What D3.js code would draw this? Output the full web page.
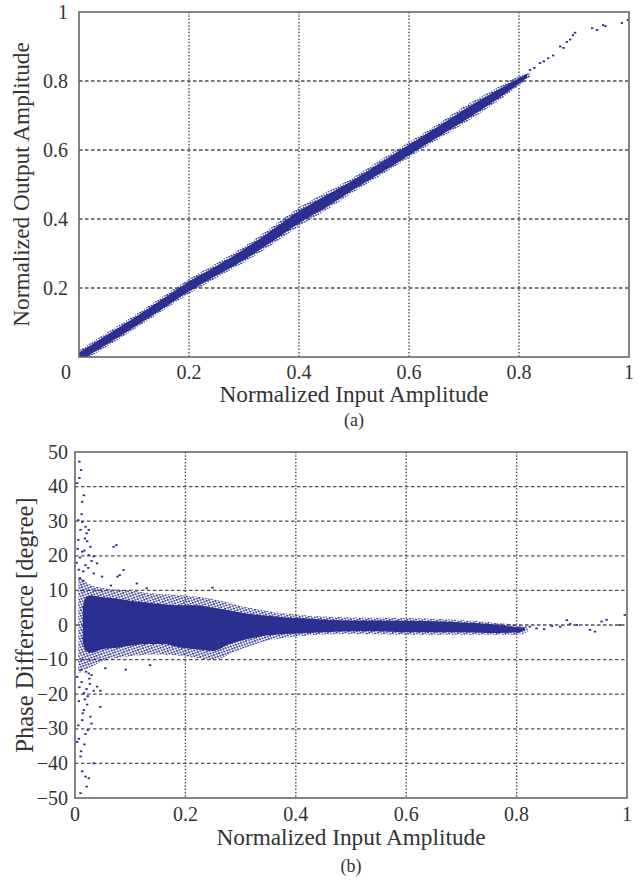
<!DOCTYPE html>
<html>
<head>
<meta charset="utf-8">
<script src="https://cdn.jsdelivr.net/npm/d3@7"></script>
<style>
    body { margin: 0; background: #fff; }
    svg text { font-family: "Liberation Serif", "Times New Roman", serif; fill: #333; }
</style>
</head>
<body>
<svg id="chart" width="641" height="880"></svg>
<script>
"use strict"

// ---- data ----
const inputTicks = [0, 0.2, 0.4, 0.6, 0.8, 1]
const outputTicks = [0.2, 0.4, 0.6, 0.8, 1]
const phaseTicks = [-50, -40, -30, -20, -10, 0, 10, 20, 30, 40, 50]

// (a) dense band of output amplitude vs input amplitude
const ampBandX = [0, 0.05, 0.1, 0.15, 0.2, 0.25, 0.3, 0.35, 0.4, 0.45, 0.5, 0.55, 0.6, 0.65, 0.7, 0.75, 0.8, 0.815]
const ampBandLow = [-0.012, 0.036, 0.086, 0.138, 0.19, 0.236, 0.281, 0.333, 0.388, 0.434, 0.486, 0.535, 0.585, 0.635, 0.684, 0.736, 0.792, 0.81]
const ampBandHigh = [0.013, 0.063, 0.113, 0.166, 0.219, 0.264, 0.312, 0.367, 0.423, 0.469, 0.514, 0.565, 0.615, 0.665, 0.717, 0.764, 0.808, 0.821]
// (a) loose scatter just outside the band
const ampFringeX = [0, 0.05, 0.1, 0.15, 0.2, 0.25, 0.3, 0.35, 0.4, 0.45, 0.5, 0.55, 0.6, 0.65, 0.7, 0.75, 0.8, 0.82]
const ampFringeLow = [-0.018, 0.03, 0.08, 0.132, 0.183, 0.229, 0.274, 0.325, 0.379, 0.426, 0.479, 0.528, 0.578, 0.628, 0.677, 0.729, 0.787, 0.812]
const ampFringeHigh = [0.019, 0.07, 0.12, 0.173, 0.226, 0.272, 0.32, 0.376, 0.433, 0.478, 0.522, 0.573, 0.623, 0.673, 0.726, 0.772, 0.814, 0.826]
// (a) sparse points above 0.8
const ampSparseX = [0.805, 0.812, 0.82, 0.828, 0.838, 0.845, 0.853, 0.862, 0.875, 0.881, 0.887, 0.893, 0.898, 0.902, 0.933, 0.942, 0.953, 0.957, 0.987, 0.998]
const ampSparseY = [0.806, 0.815, 0.832, 0.838, 0.852, 0.857, 0.866, 0.874, 0.9, 0.896, 0.913, 0.92, 0.933, 0.94, 0.953, 0.948, 0.962, 0.959, 0.968, 0.977]

// (b) dense band of phase difference
const phaseBandX = [0.014, 0.02, 0.03, 0.05, 0.08, 0.1, 0.13, 0.16, 0.19, 0.22, 0.25, 0.28, 0.31, 0.34, 0.38, 0.42, 0.46, 0.5, 0.55, 0.6, 0.65, 0.7, 0.75, 0.8, 0.815]
const phaseBandLow = [-5, -7.5, -8, -7, -6.5, -6, -5.5, -5.5, -6.5, -7, -7.5, -5.5, -4.2, -3.2, -2.6, -2.3, -2, -1.8, -1.8, -2.1, -2.1, -2.1, -2.3, -2.2, -1.5]
const phaseBandHigh = [5, 8, 8.5, 8, 7.5, 7, 6.5, 6, 5.7, 5.7, 5, 4.2, 3.3, 2.8, 2.2, 1.9, 1.5, 1.3, 1.3, 1.2, 1.1, 0.7, 0.3, -0.6, -0.8]
// (b) outer scatter fringe around the band
const phaseFringeX = [0.006, 0.03, 0.06, 0.1, 0.15, 0.2, 0.25, 0.3, 0.35, 0.4, 0.5, 0.6, 0.7, 0.8, 0.82]
const phaseFringeLow = [-14, -12, -10, -9, -8.5, -9, -10, -7, -4.5, -3.3, -2.6, -2.8, -2.8, -2.8, -2]
const phaseFringeHigh = [14, 11.5, 10.5, 10, 9, 8.5, 7.5, 5.5, 4, 3, 2.2, 2, 1.4, 0, -0.5]
// (b) individual outliers
const phaseOutX = [0.008, 0.011, 0.008, 0.004, 0.016, 0.013, 0.006, 0.013, 0.019, 0.01, 0.025, 0.006, 0.022, 0.028, 0.013, 0.025, 0.034, 0.04, 0.019, 0.075, 0.07, 0.081, 0.077, 0.088, 0.049, 0.034, 0.065, 0.112, 0.13, 0.249,
    0.003, 0.009, 0.015, 0.005, 0.018, 0.012, 0.021, 0.007, 0.017, 0.024, 0.03, 0.009, 0.015,
    0.01, 0.025, 0.027, 0.04, 0.016, 0.034, 0.046, 0.023, 0.007, 0.022, 0.016, 0.028, 0.03, 0.013, 0.023, 0.019, 0.007, 0.004, 0.034, 0.01, 0.013, 0.019, 0.025, 0.021, 0.01, 0.046, 0.136, 0.055, 0.092,
    0.004, 0.012, 0.018, 0.008, 0.02, 0.014, 0.026, 0.006, 0.017, 0.011, 0.03, 0.021,
    0.824, 0.836, 0.85, 0.864, 0.879, 0.891, 0.897, 0.909, 0.933, 0.942, 0.954, 0.963, 0.987, 0.996]
const phaseOutY = [47.2, 44.8, 42.5, 41, 37.5, 35.6, 30.3, 29.8, 28.4, 27.5, 27.5, 24.6, 24.2, 22.6, 21.2, 20.2, 19.8, 17.8, 17.3, 23.1, 22.6, 14.4, 14, 15.9, 14, 14.9, 11.4, 12, 10.6, 10.8,
    18, 19.5, 15.5, 22, 25, 32, 26.5, 16, 21.5, 16.5, 18.5, 13.5, 12.8,
    -13, -14, -17, -17.8, -19.7, -19, -19, -20.6, -22, -23, -24.6, -26.5, -28.5, -27.5, -30.4, -31.5, -32.9, -33.8, -40, -38, -42.3, -43.8, -44.3, -46.7, -48.6, -23.7, -11.6, -12.5, -12.9,
    -15, -16.5, -21.5, -18, -13.5, -25.5, -15.5, -29, -34.5, -36.5, -14.5, -18.5,
    -0.5, -1, -1.2, -0.3, -0.5, 1.4, 0.3, 0, -1.4, -1.9, 1, 1.5, 0, 2.9]

const dotColor = "#2b2f8f"
const gridColor = "#4f4f4f"
const frameColor = "#666"

const svg = d3.select("#chart")

// dotted texture for the loose scatter around the dense bands
const pattern = svg.append("defs").append("pattern")
    .attr("id", "scatter")
    .attr("patternUnits", "userSpaceOnUse")
    .attr("width", 4).attr("height", 3.6)
    .attr("patternTransform", "rotate(23)")
pattern.append("rect").attr("x", 0).attr("y", 0).attr("width", 2).attr("height", 1.6).attr("fill", dotColor)
pattern.append("rect").attr("x", 2.2).attr("y", 1.8).attr("width", 1.8).attr("height", 1.5).attr("fill", dotColor)

/**
 * Draw one MATLAB-like scatter panel (grid, tick labels, clip area).
 */
function panel({ box, xDomain, yDomain, xTicks, yTicks, xFmt, id }) {
    const x = d3.scaleLinear().domain(xDomain).range([box.left, box.right])
    const y = d3.scaleLinear().domain(yDomain).range([box.bottom, box.top])
    const g = svg.append("g")

    g.append("clipPath").attr("id", id)
        .append("rect")
        .attr("x", box.left).attr("y", box.top)
        .attr("width", box.right - box.left).attr("height", box.bottom - box.top)

    const grid = g.append("g")
    grid.selectAll(".vgrid")
        .data(xTicks.filter(t => t > xDomain[0] && t < xDomain[1]))
        .enter().append("line")
        .attr("x1", d => x(d)).attr("x2", d => x(d))
        .attr("y1", box.top).attr("y2", box.bottom)
        .attr("stroke", gridColor).attr("stroke-width", 1.4)
        .attr("stroke-dasharray", "1.5,1.8")
    grid.selectAll(".hgrid")
        .data(yTicks.filter(t => t > yDomain[0] && t < yDomain[1]))
        .enter().append("line")
        .attr("x1", box.left).attr("x2", box.right)
        .attr("y1", d => y(d)).attr("y2", d => y(d))
        .attr("stroke", gridColor).attr("stroke-width", 1.3)
        .attr("stroke-dasharray", "3.5,2.5")

    const plot = g.append("g").attr("clip-path", `url(#${id})`)

    const fmt = d3.format("")
    g.append("g").selectAll("text")
        .data(xTicks).enter().append("text")
        .attr("x", d => x(d) + xFmt.shift(d))
        .attr("y", box.bottom + xFmt.dy)
        .attr("text-anchor", "middle")
        .attr("font-size", 20)
        .text(d => fmt(d))
    g.append("g").selectAll("text")
        .data(yTicks).enter().append("text")
        .attr("x", 68)
        .attr("y", d => y(d))
        .attr("dy", "0.33em")
        .attr("text-anchor", "end")
        .attr("font-size", 20)
        .text(d => fmt(d))

    const frame = () => {
        g.append("rect")
            .attr("x", box.left).attr("y", box.top)
            .attr("width", box.right - box.left).attr("height", box.bottom - box.top)
            .attr("fill", "none").attr("stroke", frameColor).attr("stroke-width", 1.6)
    }
    return { x, y, plot, frame }
}

function band(p, xs, lo, hi, fill) {
    const rows = xs.map((d, i) => ({ x: d, lo: lo[i], hi: hi[i] }))
    const area = d3.area()
        .x(d => p.x(d.x)).y0(d => p.y(d.lo)).y1(d => p.y(d.hi))
        .curve(d3.curveMonotoneX)
    p.plot.append("path")
        .datum(rows)
        .attr("d", area)
        .attr("fill", fill)
}

function dots(p, xs, ys) {
    p.plot.selectAll(null)
        .data(xs.map((d, i) => [d, ys[i]]))
        .enter().append("rect")
        .attr("x", d => p.x(d[0]) - 1.2).attr("y", d => p.y(d[1]) - 0.9)
        .attr("width", 2.4).attr("height", 1.8)
        .attr("fill", dotColor)
}

function label(text, x, y, size, rotate) {
    svg.append("text")
        .attr("transform", `translate(${x},${y})` + (rotate ? " rotate(-90)" : ""))
        .attr("text-anchor", "middle")
        .attr("font-size", size)
        .text(text)
}

// ---- (a) amplitude ----
const pa = panel({
    id: "clip-a",
    box: { left: 79, right: 629, top: 12, bottom: 357 },
    xDomain: [0, 1], yDomain: [0, 1],
    xTicks: inputTicks, yTicks: outputTicks,
    xFmt: { dy: 22, shift: d => (d === 0 ? -13 : 0) }
})
band(pa, ampFringeX, ampFringeLow, ampFringeHigh, "url(#scatter)")
band(pa, ampBandX, ampBandLow, ampBandHigh, dotColor)
dots(pa, ampSparseX, ampSparseY)
pa.frame()
label("Normalized Input Amplitude", 354, 402, 23.3)
label("(a)", 354, 426, 18)
label("Normalized Output Amplitude", 29, 184.5, 23.3, true)

// ---- (b) phase ----
const pb = panel({
    id: "clip-b",
    box: { left: 75, right: 627, top: 452, bottom: 798 },
    xDomain: [0, 1], yDomain: [-50, 50],
    xTicks: inputTicks, yTicks: phaseTicks,
    xFmt: { dy: 23, shift: () => 0 }
})
band(pb, phaseFringeX, phaseFringeLow, phaseFringeHigh, "url(#scatter)")
band(pb, phaseBandX, phaseBandLow, phaseBandHigh, dotColor)
dots(pb, phaseOutX, phaseOutY)
pb.frame()
label("Normalized Input Amplitude", 351, 845, 23.3)
label("(b)", 351, 872, 18)
label("Phase Difference [degree]", 33, 625, 24.5, true)
</script>
</body>
</html>
